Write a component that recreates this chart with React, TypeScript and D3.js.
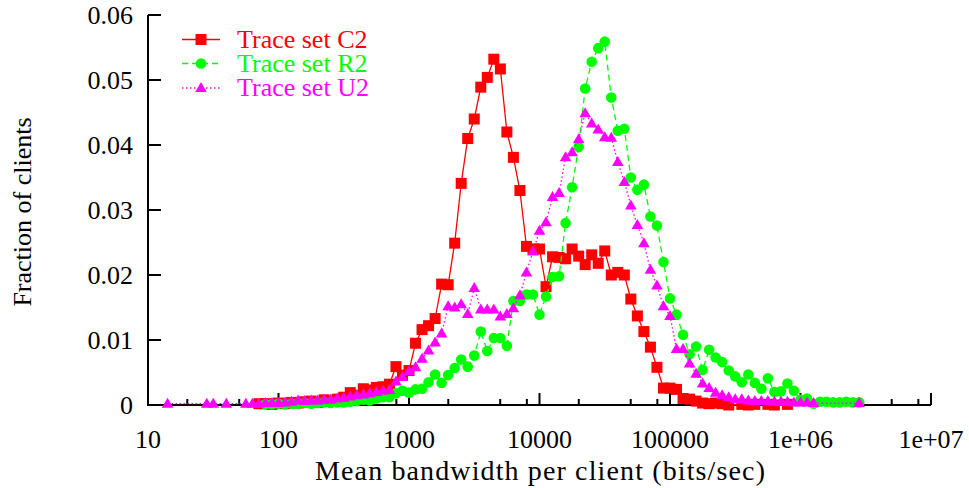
import React from "react";
import * as d3 from "d3";

// log10 of mean bandwidth per client (bits/sec), bin centres shared by all trace sets
const binExp = [
  1.15, 1.2, 1.25, 1.3, 1.35, 1.4, 1.45, 1.5, 1.55, 1.6,
  1.65, 1.7, 1.75, 1.8, 1.85, 1.9, 1.95, 2.0, 2.05, 2.1,
  2.15, 2.2, 2.25, 2.3, 2.35, 2.4, 2.45, 2.5, 2.55, 2.6,
  2.65, 2.7, 2.75, 2.8, 2.85, 2.9, 2.95, 3.0, 3.05, 3.1,
  3.15, 3.2, 3.25, 3.3, 3.35, 3.4, 3.45, 3.5, 3.55, 3.6,
  3.65, 3.7, 3.75, 3.8, 3.85, 3.9, 3.95, 4.0, 4.05, 4.1,
  4.15, 4.2, 4.25, 4.3, 4.35, 4.4, 4.45, 4.5, 4.55, 4.6,
  4.65, 4.7, 4.75, 4.8, 4.85, 4.9, 4.95, 5.0, 5.05, 5.1,
  5.15, 5.2, 5.25, 5.3, 5.35, 5.4, 5.45, 5.5, 5.55, 5.6,
  5.65, 5.7, 5.75, 5.8, 5.85, 5.9, 5.95, 6.0, 6.05, 6.1,
  6.15, 6.2, 6.25, 6.3, 6.35, 6.4, 6.45,
];

const N = null;

const traceC2 = [
  N, N, N, N, N, N, N, N, N, N,
  N, N, N, N, 0.0002, 0.0002, 0.0001, 0.0003, 0.0002, 0.0004,
  0.0003, 0.0005, 0.0006, 0.0004, 0.0008, 0.0006, 0.0009, 0.0012, 0.0019, 0.0015,
  0.0025, 0.0023, 0.0027, 0.0028, 0.0032, 0.0059, 0.0046, 0.0053, 0.0095, 0.0116,
  0.0122, 0.0133, 0.0186, 0.0185, 0.0249, 0.0341, 0.041, 0.044, 0.0489, 0.0504,
  0.0532, 0.0517, 0.042, 0.0381, 0.033, 0.0244, 0.024, 0.024, 0.0182, 0.0228,
  0.0227, 0.0225, 0.024, 0.0229, 0.0216, 0.0231, 0.0218, 0.0237, 0.02, 0.0204,
  0.02, 0.0163, 0.0137, 0.0113, 0.0089, 0.0058, 0.0026, 0.0026, 0.0024, 0.001,
  0.0009, 0.0006, 0.0003, 0.0002, 0.0003, 0.0002, 0.0, N, 0.0001, 0.0,
  0.0001, N, 0.0001, 0.0, N, 0.0001, N, N, N, N,
  N, N, N, N, N, N, N,
];

const traceR2 = [
  N, N, N, N, N, N, N, N, N, N,
  N, N, N, N, N, 0.0001, 0.0001, 0.0002, 0.0001, 0.0002,
  0.0002, 0.0003, 0.0002, 0.0003, 0.0004, 0.0003, 0.0004, 0.0004, 0.0005, 0.0006,
  0.0008, 0.0007, 0.001, 0.0012, 0.0012, 0.0018, 0.0022, 0.0019, 0.0024, 0.0025,
  0.0035, 0.0047, 0.0034, 0.0046, 0.0057, 0.007, 0.0059, 0.0076, 0.0113, 0.0083,
  0.0103, 0.0103, 0.0091, 0.016, 0.016, 0.017, 0.017, 0.0139, 0.0167, 0.0197,
  0.0198, 0.028, 0.0335, 0.0397, 0.0487, 0.0528, 0.0549, 0.0559, 0.0473, 0.0422,
  0.0425, 0.035, 0.0331, 0.0339, 0.029, 0.0276, 0.022, 0.0164, 0.0139, 0.0108,
  0.0078, 0.009, 0.0054, 0.0085, 0.0073, 0.0066, 0.0053, 0.0044, 0.0035, 0.0047,
  0.0034, 0.0025, 0.0041, 0.002, 0.0021, 0.0033, 0.0022, 0.0008, 0.001, 0.0002,
  0.0005, 0.0005, 0.0004, 0.0004, 0.0005, 0.0004, 0.0004,
];

const traceU2 = [
  0.0002, N, N, N, N, N, 0.0002, 0.0002, N, 0.0002,
  N, N, 0.0002, 0.0002, 0.0002, 0.0003, 0.0003, 0.0003, 0.0004, 0.0005,
  0.0007, 0.0006, 0.0007, 0.0007, 0.0008, 0.0008, 0.001, 0.0011, 0.0013, 0.0015,
  0.0016, 0.0018, 0.002, 0.0022, 0.0023, 0.0036, 0.0043, 0.0052, 0.0058, 0.0071,
  0.0084, 0.0096, 0.011, 0.0152, 0.015, 0.0155, 0.014, 0.018, 0.0147, 0.0147,
  0.0147, 0.0136, 0.014, 0.0149, 0.0169, 0.0204, 0.0236, 0.0268, 0.0281, 0.032,
  0.0326, 0.0381, 0.0389, 0.0409, 0.0449, 0.0433, 0.0424, 0.0412, 0.0411, 0.0374,
  0.0343, 0.0307, 0.0277, 0.0249, 0.0208, 0.0184, 0.0152, 0.0137, 0.0086, 0.0086,
  0.0064, 0.0048, 0.0033, 0.0026, 0.0019, 0.0015, 0.0012, 0.0009, 0.0009, 0.0007,
  0.0006, 0.0006, 0.0006, 0.0005, 0.0005, 0.0005, 0.0004, 0.0004, 0.0004, 0.0003,
  N, N, N, N, N, N, 0.0003,
];

const seriesNames = ["Trace set C2", "Trace set R2", "Trace set U2"];
const xTickValues = [10, 100, 1000, 10000, 100000, 1e6, 1e7];
const xTickLabels = ["10", "100", "1000", "10000", "100000", "1e+06", "1e+07"];
const yTickValues = [0, 0.01, 0.02, 0.03, 0.04, 0.05, 0.06];
const yTickLabels = ["0", "0.01", "0.02", "0.03", "0.04", "0.05", "0.06"];
const xLabel = "Mean bandwidth per client (bits/sec)";
const yLabel = "Fraction of clients";

const W = 969;
const H = 488;
const FONT = "'Liberation Serif', 'Times New Roman', serif";
const FS = 26;

const x = d3.scaleLog().domain([10, 1e7]).range([148, 931]);
const y = d3.scaleLinear().domain([0, 0.06]).range([405, 15]);

type Pt = { bw: number; v: number };

function toPoints(vals: (number | null)[]): Pt[] {
  const out: Pt[] = [];
  vals.forEach((v, i) => {
    if (v !== null) out.push({ bw: Math.pow(10, binExp[i]), v });
  });
  return out;
}

const styles = [
  { color: "#ff0000", dash: undefined as string | undefined, marker: "square" },
  { color: "#00ff00", dash: "6,4", marker: "circle" },
  { color: "#ff00ff", dash: "1.5,2.5", marker: "triangle" },
];

function Marker({ kind, cx, cy, color }: { kind: string; cx: number; cy: number; color: string }) {
  if (kind === "square")
    return <rect x={cx - 5.5} y={cy - 5.5} width={11} height={11} fill={color} />;
  if (kind === "circle") return <circle cx={cx} cy={cy} r={5.3} fill={color} />;
  return (
    <path
      d={`M${cx},${cy - 6} L${cx + 5.8},${cy + 4} L${cx - 5.8},${cy + 4} Z`}
      fill={color}
    />
  );
}

export default function App() {
  const all = [traceC2, traceR2, traceU2].map(toPoints);
  const line = d3
    .line<Pt>()
    .x((d) => x(d.bw))
    .y((d) => y(d.v));

  // minor ticks at 2, 5, 8 within each decade
  const minor: number[] = [];
  for (let e = 1; e < 7; e++) {
    [2, 5, 8].forEach((m) => minor.push(m * Math.pow(10, e)));
  }

  const legendY = [39.5, 63.5, 88];

  return (
    <svg
      width={W}
      height={H}
      style={{ position: "absolute", left: 0, top: 0, background: "#fff" }}
      fontFamily={FONT}
    >
      <rect width={W} height={H} fill="#fff" />
      {/* axes */}
      <line x1={148} y1={15} x2={148} y2={405} stroke="#000" strokeWidth={2} />
      <line x1={147} y1={405} x2={931} y2={405} stroke="#000" strokeWidth={2} />
      {yTickValues.map((t, i) => (
        <g key={"yt" + i}>
          <line x1={148} x2={161} y1={y(t)} y2={y(t)} stroke="#000" strokeWidth={2} />
          <text x={133} y={y(t) + 9} textAnchor="end" fontSize={FS} fill="#000">
            {yTickLabels[i]}
          </text>
        </g>
      ))}
      {xTickValues.map((t, i) => (
        <g key={"xt" + i}>
          <line x1={x(t)} x2={x(t)} y1={405} y2={393} stroke="#000" strokeWidth={2} />
          <text x={x(t)} y={448} textAnchor="middle" fontSize={FS} fill="#000">
            {xTickLabels[i]}
          </text>
        </g>
      ))}
      {minor.map((t, i) => (
        <line key={"mt" + i} x1={x(t)} x2={x(t)} y1={405} y2={399} stroke="#000" strokeWidth={2} />
      ))}
      <text
        x={540}
        y={480}
        textAnchor="middle"
        fontSize={28}
        fill="#000"
        textLength={450}
        lengthAdjust="spacing"
      >
        {xLabel}
      </text>
      <text
        transform={`translate(31,212) rotate(-90)`}
        textAnchor="middle"
        fontSize={FS}
        fill="#000"
      >
        {yLabel}
      </text>

      {/* series */}
      {all.map((pts, si) => (
        <g key={"s" + si}>
          <path
            d={line(pts) || ""}
            fill="none"
            stroke={styles[si].color}
            strokeWidth={1.3}
            strokeDasharray={styles[si].dash}
          />
          {pts.map((p, j) => (
            <Marker key={j} kind={styles[si].marker} cx={x(p.bw)} cy={y(p.v)} color={styles[si].color} />
          ))}
        </g>
      ))}

      {/* legend */}
      {seriesNames.map((name, i) => (
        <g key={"lg" + i}>
          <line
            x1={182}
            x2={220}
            y1={legendY[i]}
            y2={legendY[i]}
            stroke={styles[i].color}
            strokeWidth={1.3}
            strokeDasharray={styles[i].dash}
          />
          <Marker kind={styles[i].marker} cx={201} cy={legendY[i]} color={styles[i].color} />
          <text x={237} y={legendY[i] + 8} fontSize={FS} fill={styles[i].color}>
            {name}
          </text>
        </g>
      ))}
    </svg>
  );
}
